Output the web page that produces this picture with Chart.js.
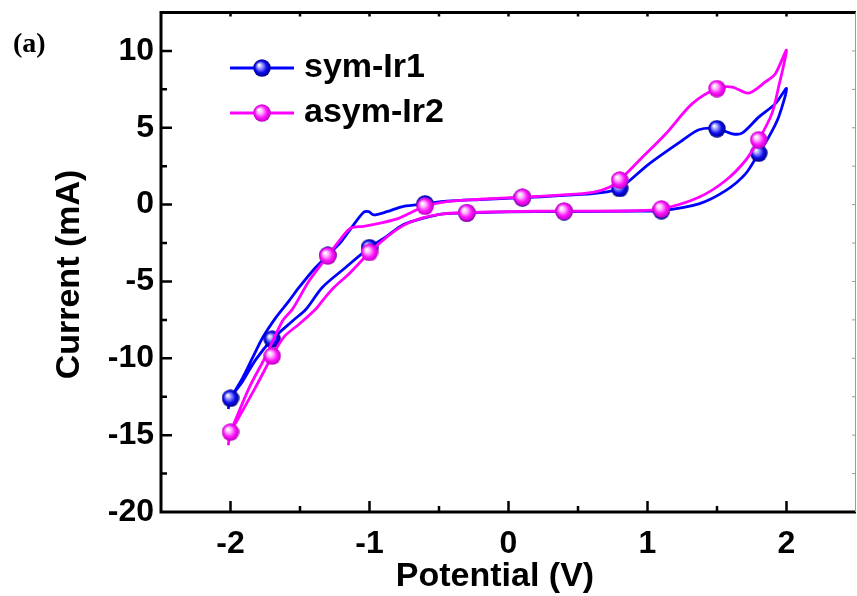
<!DOCTYPE html>
<html>
<head>
<meta charset="utf-8">
<script src="https://cdn.jsdelivr.net/npm/chart.js@4.4.1/dist/chart.umd.min.js"></script>
<style>
html, body { margin: 0; padding: 0; background: #fff; }
#wrap { width: 857px; height: 596px; position: relative; }
</style>
</head>
<body>
<div id="wrap"><canvas id="cv"></canvas></div>
<script>
// Cyclic voltammograms, values

// sym-Ir1: full loop (V, mA)
const SYM_V = [-2.0, -1.913, -1.841, -1.769, -1.674, -1.579, -1.507, -1.388, -1.3, -1.208, -1.137, -1.042, -1.006, -0.97, -0.874, -0.755, -0.6, -0.444, -0.206, 0.1, 0.367, 0.606, 0.72, 0.8, 1.012, 1.25, 1.37, 1.5, 1.609, 1.68, 1.8, 1.92, 2.0,
               1.943, 1.872, 1.8, 1.705, 1.562, 1.37, 1.1, 0.94, 0.4, 0.0, -0.3, -0.469, -0.612, -0.755, -0.874, -1.0, -1.172, -1.34, -1.457, -1.554, -1.7, -1.817, -1.913, -2.0, -2.016];
const SYM_I = [-12.6, -11.27, -9.96, -8.66, -7.35, -6.26, -5.39, -4.09, -3.3, -2.46, -1.59, -0.5, -0.46, -0.67, -0.46, -0.11, 0.05, 0.22, 0.33, 0.45, 0.58, 0.72, 0.85, 1.05, 2.65, 4.17, 4.87, 4.94, 4.61, 4.65, 5.69, 6.57, 7.55,
               5.69, 4.39, 3.35, 2.0, 0.91, 0.05, -0.39, -0.42, -0.45, -0.47, -0.55, -0.6, -0.88, -1.3, -2.05, -2.8, -4.09, -5.39, -6.81, -7.57, -8.76, -10.07, -11.5, -12.6, -13.3];

// asym-Ir2: full loop (V, mA)
const ASYM_V = [-2.0, -1.866, -1.746, -1.626, -1.554, -1.434, -1.3, -1.208, -1.137, -1.042, -0.922, -0.802, -0.707, -0.6, -0.444, -0.206, 0.1, 0.367, 0.606, 0.726, 0.8, 0.94, 1.132, 1.322, 1.5, 1.609, 1.728, 1.848, 1.92, 2.0,
                1.943, 1.895, 1.8, 1.705, 1.562, 1.37, 1.1, 0.893, 0.4, 0.0, -0.3, -0.469, -0.612, -0.755, -0.874, -1.0, -1.137, -1.256, -1.316, -1.388, -1.507, -1.615, -1.7, -1.822, -1.95, -2.0, -2.016];
const ASYM_I = [-14.8, -11.92, -9.85, -7.57, -6.8, -4.96, -3.33, -2.24, -1.54, -1.41, -1.2, -0.93, -0.54, -0.11, 0.2, 0.35, 0.48, 0.62, 0.8, 1.13, 1.6, 2.87, 4.61, 6.57, 7.55, 7.65, 7.26, 7.98, 8.52, 10.05,
                7.65, 5.92, 4.22, 2.87, 1.57, 0.48, -0.28, -0.4, -0.42, -0.45, -0.52, -0.6, -0.85, -1.35, -2.1, -3.11, -4.41, -5.39, -6.0, -6.81, -7.78, -8.6, -9.85, -11.92, -14.0, -14.8, -15.66];

// marker positions (every 0.7 V along the scan)
const MARK_V = [-2.0, -1.3, -0.6, 0.1, 0.8, 1.5, 1.8, 1.1, 0.4, -0.3, -1.0, -1.7];
const SYM_MARK_I = [-12.6, -3.3, 0.05, 0.45, 1.05, 4.94, 3.35, -0.39, -0.45, -0.55, -2.8, -8.76];
const ASYM_MARK_I = [-14.8, -3.33, -0.11, 0.48, 1.6, 7.55, 4.22, -0.28, -0.42, -0.52, -3.11, -9.85];

// axes
const X_TICKS = [-2, -1, 0, 1, 2];
const Y_TICKS = [-20, -15, -10, -5, 0, 5, 10];
const X_MIN = -2.5, X_MAX = 2.5, X_MINOR = 0.5;
const Y_MIN = -20, Y_MAX = 12.5, Y_MINOR = 2.5;

const BLUE = '#0000ff';
const PINK = '#ff00ff';
const FONT = "'Liberation Sans', Arial, sans-serif";

function toPoints(xs, ys) {
    return xs.map((v, i) => ({ x: v, y: ys[i] }));
}

// glossy ball marker
function makeBall(base, light, dark) {
    const s = 18, r = 8.7;
    const c = document.createElement('canvas');
    c.width = s; c.height = s;
    const g = c.getContext('2d');
    const grad = g.createRadialGradient(s / 2 - 3, s / 2 - 3, 0.5, s / 2, s / 2, r);
    grad.addColorStop(0, '#ffffff');
    grad.addColorStop(0.28, light);
    grad.addColorStop(0.65, base);
    grad.addColorStop(1, dark);
    g.fillStyle = grad;
    g.beginPath();
    g.arc(s / 2, s / 2, r, 0, Math.PI * 2);
    g.fill();
    return c;
}

const blueBall = makeBall('#0c0cf0', '#9a9aff', '#000088');
const pinkBall = makeBall('#ff14ff', '#ffb8ff', '#c000c0');

// рамка, внутренние засечки, подписи осей, легенда
const decorPlugin = {
    id: 'decor',
    afterDraw(chart) {
        const { ctx, chartArea: a, scales: { x, y } } = chart;
        ctx.save();

        // frame
        ctx.strokeStyle = '#000';
        ctx.lineWidth = 3;
        ctx.beginPath();
        ctx.moveTo(a.right, a.top);
        ctx.lineTo(a.left, a.top);
        ctx.lineTo(a.left, a.bottom);
        ctx.lineTo(a.right, a.bottom);
        ctx.stroke();
        ctx.strokeStyle = '#9a9a9a';
        ctx.lineWidth = 1;
        ctx.beginPath();
        ctx.moveTo(a.right - 0.5, a.top);
        ctx.lineTo(a.right - 0.5, a.bottom);
        ctx.stroke();

        // ticks pointing inward
        ctx.strokeStyle = '#000';
        ctx.lineWidth = 2.5;
        ctx.beginPath();
        for (let v = Math.ceil(X_MIN / X_MINOR) * X_MINOR; v <= X_MAX + 1e-9; v += X_MINOR) {
            const px = x.getPixelForValue(v);
            if (px <= a.left + 2 || px >= a.right - 2) continue;
            const major = X_TICKS.includes(Math.round(v * 10) / 10);
            ctx.moveTo(px, a.bottom);
            ctx.lineTo(px, a.bottom - (major ? 11 : 6));
            ctx.moveTo(px, a.top);
            ctx.lineTo(px, a.top + 4);
        }
        for (let v = Math.ceil(Y_MIN / Y_MINOR) * Y_MINOR; v <= Y_MAX + 1e-9; v += Y_MINOR) {
            const py = y.getPixelForValue(v);
            if (py >= a.bottom - 2 || py <= a.top + 2) continue;
            const major = Y_TICKS.includes(v);
            ctx.moveTo(a.left, py);
            ctx.lineTo(a.left + (major ? 11 : 6), py);
        }
        ctx.stroke();
        ctx.strokeStyle = '#9a9a9a';
        ctx.lineWidth = 1;
        ctx.beginPath();
        for (let v = Math.ceil(Y_MIN / Y_MINOR) * Y_MINOR; v <= Y_MAX + 1e-9; v += Y_MINOR) {
            const py = y.getPixelForValue(v);
            if (py >= a.bottom - 2 || py <= a.top + 2) continue;
            ctx.moveTo(a.right, py);
            ctx.lineTo(a.right - 4, py);
        }
        ctx.stroke();

        // axis titles
        ctx.fillStyle = '#000';
        ctx.font = 'bold 34px ' + FONT;
        ctx.textAlign = 'center';
        ctx.textBaseline = 'alphabetic';
        ctx.fillText('Potential (V)', a.left + 334, 586);
        ctx.save();
        ctx.translate(79, a.top + 262);
        ctx.rotate(-Math.PI / 2);
        ctx.fillText('Current (mA)', 0, 0);
        ctx.restore();

        // panel label
        ctx.font = "bold 28px 'Liberation Serif', 'Times New Roman', serif";
        ctx.textAlign = 'left';
        ctx.fillText('(a)', 13, 52);

        // legend
        const items = chart.data.datasets.filter(d => d.legendText);
        items.forEach((d, i) => {
            const ly = a.top + 55.5 + i * 45;
            ctx.strokeStyle = d.borderColor;
            ctx.lineWidth = 2.8;
            ctx.beginPath();
            ctx.moveTo(a.left + 69, ly);
            ctx.lineTo(a.left + 133, ly);
            ctx.stroke();
            ctx.drawImage(d.ball, a.left + 101 - d.ball.width / 2, ly - d.ball.height / 2);
            ctx.fillStyle = '#000';
            ctx.font = 'bold 34px ' + FONT;
            ctx.textAlign = 'left';
            ctx.textBaseline = 'alphabetic';
            ctx.fillText(d.legendText, a.left + 143, ly + 9);
        });

        ctx.restore();
    }
};

const lineStyle = {
    showLine: true,
    borderWidth: 2.8,
    tension: 0.3,
    pointRadius: 0,
    pointHoverRadius: 0,
    fill: false
};

// no extra room for half-labels at the axis ends
function noLabelPadding(s) {
    s.paddingTop = 0;
    s.paddingBottom = 0;
    s.paddingLeft = 0;
    s.paddingRight = 0;
}

const ctx = document.getElementById('cv').getContext('2d');
const chart = new Chart(ctx, {
    type: 'scatter',
    data: {
        datasets: [
            Object.assign({
                label: 'sym-Ir1',
                legendText: 'sym-Ir1',
                ball: blueBall,
                data: toPoints(SYM_V, SYM_I),
                borderColor: BLUE,
                order: 3
            }, lineStyle),
            {
                label: 'sym-Ir1 markers',
                data: toPoints(MARK_V, SYM_MARK_I),
                showLine: false,
                pointStyle: blueBall,
                pointRadius: 8,
                order: 2
            },
            Object.assign({
                label: 'asym-Ir2',
                legendText: 'asym-Ir2',
                ball: pinkBall,
                data: toPoints(ASYM_V, ASYM_I),
                borderColor: PINK,
                order: 1
            }, lineStyle),
            {
                label: 'asym-Ir2 markers',
                data: toPoints(MARK_V, ASYM_MARK_I),
                showLine: false,
                pointStyle: pinkBall,
                pointRadius: 8,
                order: 0
            }
        ]
    },
    options: {
        responsive: true,
        maintainAspectRatio: false,
        animation: false,
        layout: { autoPadding: false, padding: { top: 12.5, right: 1, left: 0, bottom: 0 } },
        plugins: {
            legend: { display: false },
            tooltip: { enabled: false }
        },
        scales: {
            x: {
                type: 'linear',
                min: X_MIN,
                max: X_MAX,
                grid: { display: false, drawTicks: false },
                border: { display: false },
                ticks: {
                    color: '#000',
                    font: { family: FONT, size: 32, weight: 'bold' },
                    padding: 13,
                    maxRotation: 0,
                    autoSkip: false
                },
                afterBuildTicks: s => { s.ticks = X_TICKS.map(v => ({ value: v })); },
                afterFit: s => { s.height = 84; noLabelPadding(s); }
            },
            y: {
                type: 'linear',
                min: Y_MIN,
                max: Y_MAX,
                grid: { display: false, drawTicks: false },
                border: { display: false },
                ticks: {
                    color: '#000',
                    font: { family: FONT, size: 32, weight: 'bold' },
                    padding: 7,
                    autoSkip: false
                },
                afterBuildTicks: s => { s.ticks = Y_TICKS.map(v => ({ value: v })); },
                afterFit: s => { s.width = 161; noLabelPadding(s); }
            }
        }
    },
    plugins: [decorPlugin]
});
</script>
</body>
</html>
